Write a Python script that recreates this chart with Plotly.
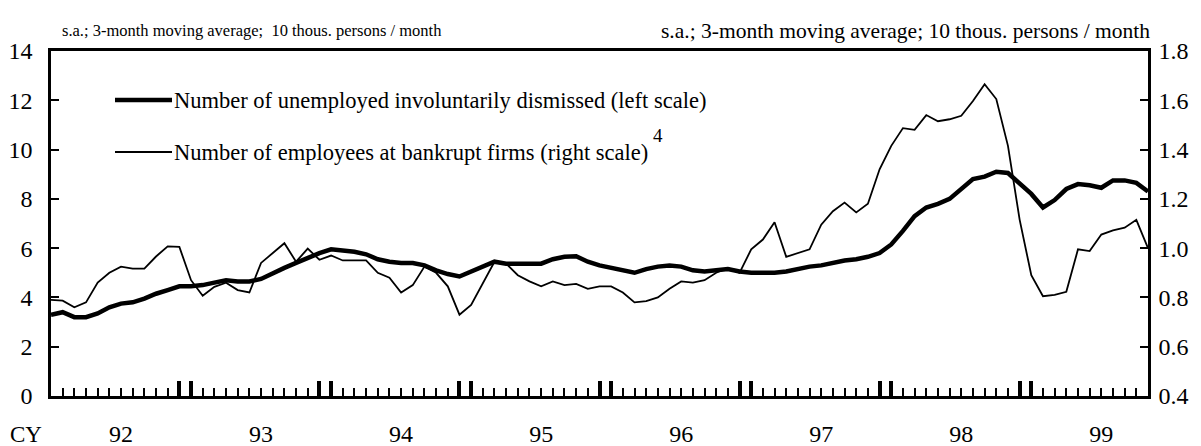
import plotly.graph_objects as go

# Monthly data, Jan 1992 onward (95 months)
dismissed = [3.3, 3.4, 3.2, 3.2, 3.35, 3.6, 3.75, 3.8, 3.95, 4.15, 4.3, 4.45,
             4.45, 4.5, 4.6, 4.7, 4.65, 4.65, 4.75, 5.0, 5.2, 5.4, 5.6, 5.8,
             5.95, 5.92, 5.85, 5.75, 5.55, 5.45, 5.4, 5.4, 5.3, 5.1, 4.95, 4.85,
             5.05, 5.25, 5.45, 5.37, 5.37, 5.33, 5.37, 5.55, 5.65, 5.67, 5.45, 5.3,
             5.2, 5.1, 5.0, 5.15, 5.25, 5.3, 5.25, 5.1, 5.05, 5.1, 5.15, 5.05,
             5.0, 5.0, 5.0, 5.05, 5.15, 5.25, 5.3, 5.4, 5.5, 5.55, 5.65, 5.8,
             6.15, 6.7, 7.3, 7.65, 7.8, 8.0, 8.4, 8.8, 8.9, 9.1, 9.05, 8.65,
             8.2, 7.65, 7.95, 8.4, 8.6, 8.55, 8.45, 8.75, 8.75, 8.65, 8.3]

bankrupt = [0.79, 0.787, 0.76, 0.78, 0.86, 0.90, 0.925, 0.917, 0.917, 0.966, 1.007, 1.005,
            0.87, 0.807, 0.843, 0.86, 0.83, 0.82, 0.94, 0.98, 1.02, 0.945, 0.998, 0.953,
            0.97, 0.95, 0.95, 0.95, 0.90, 0.88, 0.82, 0.85, 0.925, 0.90, 0.845, 0.73,
            0.77, 0.855, 0.945, 0.937, 0.89, 0.865, 0.845, 0.865, 0.85, 0.855, 0.835, 0.845,
            0.845, 0.82, 0.78, 0.785, 0.80, 0.835, 0.865, 0.86, 0.87, 0.90, 0.92, 0.90,
            0.995, 1.035, 1.105, 0.965, 0.98, 0.995, 1.095, 1.15, 1.185, 1.145, 1.18, 1.32,
            1.415, 1.487, 1.48, 1.54, 1.515, 1.523, 1.537, 1.597, 1.665, 1.605, 1.415, 1.116,
            0.89, 0.805, 0.81, 0.823, 0.995, 0.988, 1.055, 1.072, 1.083, 1.115, 1.0]

year_labels = ["92", "93", "94", "95", "96", "97", "98", "99"]
left_ticks = [0, 2, 4, 6, 8, 10, 12, 14]
right_ticks = [0.4, 0.6, 0.8, 1.0, 1.2, 1.4, 1.6, 1.8]

n = len(dismissed)
x = list(range(n))

FONT = "Liberation Serif, Times New Roman, serif"

fig = go.Figure()
fig.add_trace(go.Scatter(x=x, y=dismissed, mode="lines", yaxis="y",
                         line=dict(color="black", width=4.5), showlegend=False))
fig.add_trace(go.Scatter(x=x, y=bankrupt, mode="lines", yaxis="y2",
                         line=dict(color="black", width=1.8), showlegend=False))
# dummy trace on overlay x axis carrying the thick year ticks
fig.add_trace(go.Scatter(x=[0], y=[None], xaxis="x2", yaxis="y", mode="lines",
                         showlegend=False, hoverinfo="skip"))

label_pos = [6 + 12 * k for k in range(len(year_labels))]
ticktext = [""] * n
for p, lab in zip(label_pos, year_labels):
    if p < n:
        ticktext[p] = lab

thick = [0]
for k in range(len(year_labels)):
    for t in (11 + 12 * k, 12 + 12 * k):
        if t < n:
            thick.append(t)

# the page body has an 8px default margin, so the figure is 8px smaller
xr = [0, n - 1]
fig.update_layout(
    width=1193, height=438,
    margin=dict(l=43, r=53, t=43, b=50),
    paper_bgcolor="white", plot_bgcolor="white",
    font=dict(family=FONT, color="black", size=24),
    xaxis=dict(range=xr, tickvals=x, ticktext=ticktext, ticks="inside", ticklen=8,
               tickwidth=1.5, tickcolor="black", showline=True, linecolor="black",
               linewidth=2.5, mirror=True, showgrid=False, zeroline=False,
               ticklabelstandoff=14, tickfont=dict(size=24), automargin=False),
    xaxis2=dict(range=xr, overlaying="x", anchor="y", side="bottom", tickvals=thick,
                ticks="inside", ticklen=15, tickwidth=3.5, tickcolor="black",
                showticklabels=False, showline=False, showgrid=False, zeroline=False,
                automargin=False),
    yaxis=dict(range=[0, 14], tickvals=left_ticks, ticks="inside", ticklen=8,
               tickwidth=1.5, tickcolor="black", showline=True, linecolor="black",
               linewidth=2.5, showgrid=False, zeroline=False, ticklabelstandoff=11,
               tickfont=dict(size=24), automargin=False),
    yaxis2=dict(range=[0.4, 1.8], tickvals=right_ticks, tickformat=".1f",
                overlaying="y", side="right", ticks="inside", ticklen=8,
                tickwidth=1.5, tickcolor="black", showline=True, linecolor="black",
                linewidth=2.5, showgrid=False, zeroline=False, ticklabelstandoff=3,
                tickfont=dict(size=24), automargin=False),
)

W = 1097.0
H = 345.0
def px(xp):
    return (xp - 51) / W
def py(yp):
    return (396 - yp) / H

# legend (drawn manually)
fig.add_shape(type="line", xref="paper", yref="paper", x0=px(115), x1=px(172),
              y0=py(100), y1=py(100), line=dict(color="black", width=4.5))
fig.add_shape(type="line", xref="paper", yref="paper", x0=px(115), x1=px(172),
              y0=py(152), y1=py(152), line=dict(color="black", width=1.8))
fig.add_annotation(xref="paper", yref="paper", x=px(172), y=py(100), xanchor="left",
                   yanchor="middle", showarrow=False, font=dict(size=22.5),
                   text="Number of unemployed involuntarily dismissed (left scale)")
fig.add_annotation(xref="paper", yref="paper", x=px(172), y=py(152), xanchor="left",
                   yanchor="middle", showarrow=False, font=dict(size=22.5),
                   text="Number of employees at bankrupt firms (right scale)")
fig.add_annotation(xref="paper", yref="paper", x=px(651), y=py(135), xanchor="left",
                   yanchor="middle", showarrow=False, font=dict(size=19), text="4")

# unit notes
fig.add_annotation(xref="paper", yref="paper", x=px(60), y=py(31), xanchor="left",
                   yanchor="middle", showarrow=False, font=dict(size=16.5),
                   text="s.a.; 3-month moving average;\u00a0\u00a010 thous. persons / month")
fig.add_annotation(xref="paper", yref="paper", x=px(1152), y=py(31), xanchor="right",
                   yanchor="middle", showarrow=False, font=dict(size=21.5),
                   text="s.a.; 3-month moving average; 10 thous. persons / month")
fig.add_annotation(xref="paper", yref="paper", x=px(26), y=py(434), xanchor="center",
                   yanchor="middle", showarrow=False, font=dict(size=23), text="CY",
                   borderpad=0)

fig.write_html("out.html")
